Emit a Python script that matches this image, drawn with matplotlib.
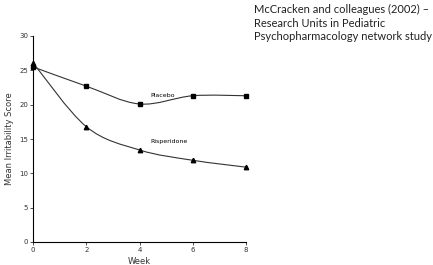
import matplotlib.pyplot as plt
from matplotlib.path import Path
from matplotlib.patches import PathPatch
import numpy as np

weeks = [0, 2, 4, 6, 8]
placebo = [25.5, 22.7, 20.1, 21.3, 21.3]
risperidone = [26.1, 16.8, 13.4, 11.9, 10.9]
yticks = [0, 5, 10, 15, 20, 25, 30]
xticks = [0, 2, 4, 6, 8]
title = "McCracken and colleagues (2002) \u2013\nResearch Units in Pediatric\nPsychopharmacology network study"


def smooth_path(x, y):
    # Catmull-Rom style bezier through the points
    x = np.asarray(x, float)
    y = np.asarray(y, float)
    verts = [(x[0], y[0])]
    codes = [Path.MOVETO]
    n = len(x)
    for i in range(n - 1):
        x0, y0 = (x[i - 1], y[i - 1]) if i > 0 else (x[i], y[i])
        x3, y3 = (x[i + 2], y[i + 2]) if i + 2 < n else (x[i + 1], y[i + 1])
        c1 = (x[i] + (x[i + 1] - x0) / 6, y[i] + (y[i + 1] - y0) / 6)
        c2 = (x[i + 1] - (x3 - x[i]) / 6, y[i + 1] - (y3 - y[i]) / 6)
        verts += [c1, c2, (x[i + 1], y[i + 1])]
        codes += [Path.CURVE4] * 3
    return Path(verts, codes)


fig = plt.figure(figsize=(4.33, 2.65), dpi=100)
ax = fig.add_axes([33 / 433, 23 / 265, 213 / 433, 206 / 265])

for series, marker in [(placebo, 's'), (risperidone, '^')]:
    ax.add_patch(PathPatch(smooth_path(weeks, series), facecolor='none',
                           edgecolor='#333333', lw=0.8))
    ax.plot(weeks, series, linestyle='none', marker=marker, ms=3.2,
            color='black', clip_on=False, zorder=3)

ax.text(4.4, 21.0, "Placebo", fontsize=4.5, ha='left', va='bottom')
ax.text(4.4, 14.3, "Risperidone", fontsize=4.5, ha='left', va='bottom')

ax.set_xlim(0, 8)
ax.set_ylim(0, 30)
ax.set_xticks(xticks)
ax.set_yticks(yticks)
ax.tick_params(labelsize=5, length=2, width=0.6, pad=1.5, colors='#333333')
ax.spines['top'].set_visible(False)
ax.spines['right'].set_visible(False)
ax.spines['left'].set_linewidth(0.8)
ax.spines['bottom'].set_linewidth(0.8)
ax.set_xlabel("Week", fontsize=6, labelpad=3, color='#333333')
ax.set_ylabel("Mean Irritability Score", fontsize=6, labelpad=4, color='#333333')

fig.text(254 / 433, 1 - 4 / 265, title, fontsize=8.0, family='Lato',
         ha='left', va='top', linespacing=1.3, color='#222222')

fig.savefig("out.png", dpi=100)
plt.close(fig)
